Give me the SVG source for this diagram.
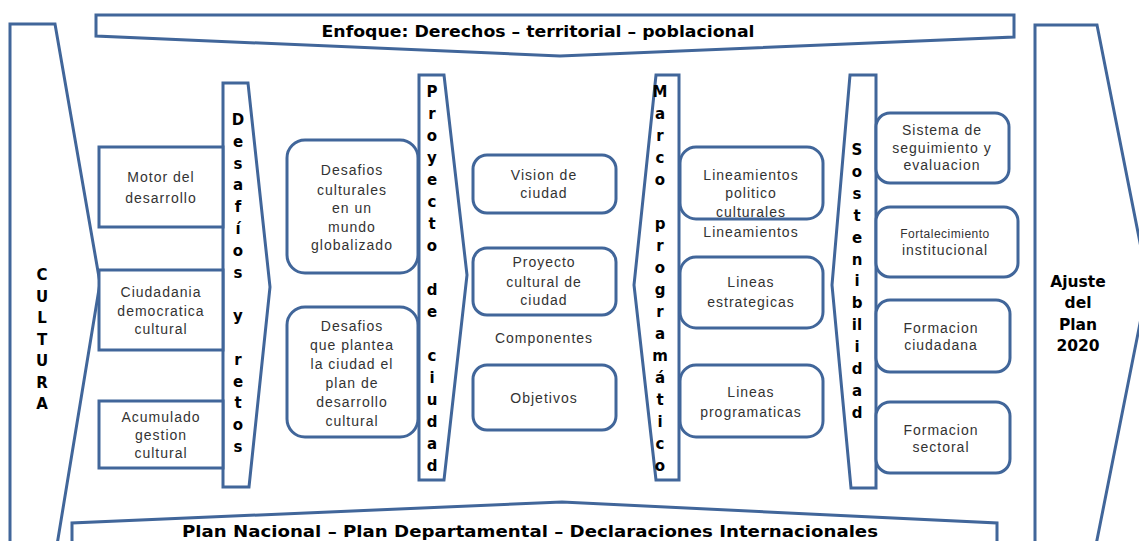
<svg xmlns="http://www.w3.org/2000/svg" width="1139" height="541" viewBox="0 0 1139 541">
<style>
.s{fill:#fff;stroke:#41669a;stroke-width:3;stroke-linejoin:miter}
.t{font-family:"Liberation Sans",Arial,sans-serif;font-size:14px;fill:#333;text-anchor:middle;letter-spacing:1px}
.sm{font-size:12px;letter-spacing:0.5px}
.v{font-family:"DejaVu Sans",Verdana,sans-serif;font-weight:bold;font-size:15px;fill:#000;text-anchor:middle}
.b{font-family:"DejaVu Sans",Verdana,sans-serif;font-weight:bold;font-size:16px;fill:#000;text-anchor:middle}
</style>
<rect width="1139" height="541" fill="#fff"/>

<g id="cultura">
<polygon class="s" points="10,24 55,24 100,283 57,545 10,545"/>
<text class="v"><tspan x="42" y="280">C</tspan><tspan x="42" y="301.5">U</tspan><tspan x="42" y="323">L</tspan><tspan x="42" y="344.5">T</tspan><tspan x="42" y="366">U</tspan><tspan x="42" y="387.5">R</tspan><tspan x="42" y="409">A</tspan></text>
</g>

<g id="ajuste">
<polygon class="s" points="1035,25 1097,25 1148,283 1096,545 1035,545"/>
<text class="v" style="font-size:15.5px"><tspan x="1078" y="287">Ajuste</tspan><tspan x="1078" y="308">del</tspan><tspan x="1078" y="330">Plan</tspan><tspan x="1078" y="351">2020</tspan></text>
</g>

<g id="enfoque">
<polygon class="s" points="96,15 1014,15 1014,37 560,56 96,36"/>
<text class="b" x="538" y="37" textLength="433" lengthAdjust="spacingAndGlyphs">Enfoque: Derechos – territorial – poblacional</text>
</g>

<g id="plan">
<polygon class="s" points="72,545 72,523 562,502 997,523 997,545"/>
<text class="b" x="530" y="537" textLength="696" lengthAdjust="spacingAndGlyphs">Plan Nacional – Plan Departamental – Declaraciones Internacionales</text>
</g>

<g id="desafios-retos">
<polygon class="s" points="223,83 248,83 270,287 249,487 223,487"/>
<text class="v"><tspan x="238" y="125">D</tspan><tspan x="238" y="146.8">e</tspan><tspan x="238" y="168.6">s</tspan><tspan x="238" y="190.4">a</tspan><tspan x="238" y="212.2">f</tspan><tspan x="238" y="234">í</tspan><tspan x="238" y="255.8">o</tspan><tspan x="238" y="277.6">s</tspan><tspan x="238" y="321.2">y</tspan><tspan x="238" y="364.8">r</tspan><tspan x="238" y="386.6">e</tspan><tspan x="238" y="408.4">t</tspan><tspan x="238" y="430.2">o</tspan><tspan x="238" y="452">s</tspan></text>
</g>

<g id="proyecto-ciudad">
<polygon class="s" points="419,75 444,75 467,275 444,480 419,480"/>
<text class="v"><tspan x="432" y="97">P</tspan><tspan x="432" y="119">r</tspan><tspan x="432" y="141">o</tspan><tspan x="432" y="163">y</tspan><tspan x="432" y="185">e</tspan><tspan x="432" y="207">c</tspan><tspan x="432" y="229">t</tspan><tspan x="432" y="251">o</tspan><tspan x="432" y="295">d</tspan><tspan x="432" y="317">e</tspan><tspan x="432" y="361">c</tspan><tspan x="432" y="383">i</tspan><tspan x="432" y="405">u</tspan><tspan x="432" y="427">d</tspan><tspan x="432" y="449">a</tspan><tspan x="432" y="471">d</tspan></text>
</g>

<g id="marco-programatico">
<polygon class="s" points="656,75 679,75 679,480 656,480 634,285"/>
<text class="v"><tspan x="660" y="97">M</tspan><tspan x="660" y="119">a</tspan><tspan x="660" y="141">r</tspan><tspan x="660" y="163">c</tspan><tspan x="660" y="185">o</tspan><tspan x="660" y="229">p</tspan><tspan x="660" y="251">r</tspan><tspan x="660" y="273">o</tspan><tspan x="660" y="295">g</tspan><tspan x="660" y="317">r</tspan><tspan x="660" y="339">a</tspan><tspan x="660" y="361">m</tspan><tspan x="660" y="383">á</tspan><tspan x="660" y="405">t</tspan><tspan x="660" y="427">i</tspan><tspan x="660" y="449">c</tspan><tspan x="660" y="471">o</tspan></text>
</g>

<g id="sostenibilidad">
<polygon class="s" points="850,75 876,75 876,488 851,488 832,285"/>
<text class="v"><tspan x="857" y="155">S</tspan><tspan x="857" y="176.9">o</tspan><tspan x="857" y="198.8">s</tspan><tspan x="857" y="220.7">t</tspan><tspan x="857" y="242.6">e</tspan><tspan x="857" y="264.5">n</tspan><tspan x="857" y="286.4">i</tspan><tspan x="857" y="308.3">b</tspan><tspan x="857" y="330.2">il</tspan><tspan x="857" y="352.1">i</tspan><tspan x="857" y="374">d</tspan><tspan x="857" y="395.9">a</tspan><tspan x="857" y="417.8">d</tspan></text>
</g>

<g id="motor">
<rect class="s" x="99" y="147" width="124" height="80"/>
<text class="t"><tspan x="161" y="182">Motor del</tspan><tspan x="161" y="203">desarrollo</tspan></text>
</g>
<g id="ciudadania">
<rect class="s" x="99" y="270" width="124" height="80"/>
<text class="t"><tspan x="161" y="297">Ciudadania</tspan><tspan x="161" y="316">democratica</tspan><tspan x="161" y="334">cultural</tspan></text>
</g>
<g id="acumulado">
<rect class="s" x="99" y="401" width="124" height="67"/>
<text class="t"><tspan x="161" y="422">Acumulado</tspan><tspan x="161" y="440">gestion</tspan><tspan x="161" y="458">cultural</tspan></text>
</g>

<g id="desafios-globalizado">
<rect class="s" x="287" y="140" width="131" height="133" rx="18"/>
<text class="t"><tspan x="352" y="175">Desafios</tspan><tspan x="352" y="195">culturales</tspan><tspan x="352" y="213">en un</tspan><tspan x="352" y="232">mundo</tspan><tspan x="352" y="250">globalizado</tspan></text>
</g>
<g id="desafios-ciudad">
<rect class="s" x="287" y="307" width="131" height="130" rx="18"/>
<text class="t"><tspan x="352" y="331">Desafios</tspan><tspan x="352" y="350">que plantea</tspan><tspan x="352" y="369">la ciudad el</tspan><tspan x="352" y="388">plan de</tspan><tspan x="352" y="407">desarrollo</tspan><tspan x="352" y="426">cultural</tspan></text>
</g>

<g id="vision">
<rect class="s" x="473" y="155" width="143" height="58" rx="14"/>
<text class="t"><tspan x="544" y="180">Vision de</tspan><tspan x="544" y="198">ciudad</tspan></text>
</g>
<g id="proyecto-cultural">
<rect class="s" x="473" y="248" width="143" height="67" rx="14"/>
<text class="t"><tspan x="544" y="267">Proyecto</tspan><tspan x="544" y="287">cultural de</tspan><tspan x="544" y="305">ciudad</tspan></text>
</g>
<g id="componentes">
<text class="t" x="544" y="343">Componentes</text>
</g>
<g id="objetivos">
<rect class="s" x="473" y="365" width="143" height="65" rx="14"/>
<text class="t" x="544" y="403">Objetivos</text>
</g>

<g id="lineamientos-politico">
<rect class="s" x="680" y="147" width="143" height="72" rx="16"/>
<text class="t"><tspan x="751" y="180">Lineamientos</tspan><tspan x="751" y="198">politico</tspan><tspan x="751" y="217">culturales</tspan></text>
</g>
<g id="lineamientos-label">
<text class="t" x="751" y="237">Lineamientos</text>
</g>
<g id="lineas-estrategicas">
<rect class="s" x="680" y="257" width="143" height="71" rx="16"/>
<text class="t"><tspan x="751" y="287">Lineas</tspan><tspan x="751" y="307">estrategicas</tspan></text>
</g>
<g id="lineas-programaticas">
<rect class="s" x="680" y="365" width="143" height="72" rx="16"/>
<text class="t"><tspan x="751" y="397">Lineas</tspan><tspan x="751" y="417">programaticas</tspan></text>
</g>

<g id="sistema">
<rect class="s" x="876" y="113" width="133" height="70" rx="14"/>
<text class="t"><tspan x="942" y="135">Sistema de</tspan><tspan x="942" y="153">seguimiento y</tspan><tspan x="942" y="170">evaluacion</tspan></text>
</g>
<g id="fortalecimiento">
<rect class="s" x="876" y="207" width="142" height="70" rx="14"/>
<text class="t"><tspan class="sm" x="945" y="238">Fortalecimiento</tspan><tspan x="945" y="255">institucional</tspan></text>
</g>
<g id="formacion-ciudadana">
<rect class="s" x="876" y="300" width="134" height="72" rx="14"/>
<text class="t"><tspan x="941" y="333">Formacion</tspan><tspan x="941" y="350">ciudadana</tspan></text>
</g>
<g id="formacion-sectoral">
<rect class="s" x="876" y="402" width="134" height="71" rx="14"/>
<text class="t"><tspan x="941" y="435">Formacion</tspan><tspan x="941" y="452">sectoral</tspan></text>
</g>
</svg>
